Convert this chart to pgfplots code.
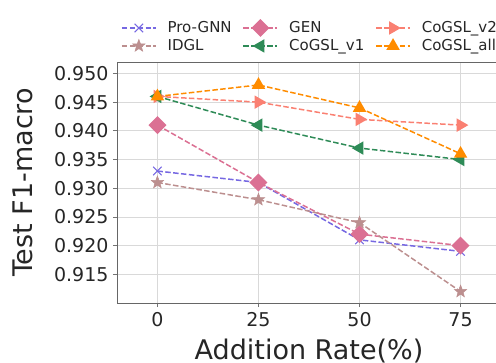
\documentclass[border=0pt]{standalone}
\usepackage{pgfplots}
\pgfplotsset{compat=1.18}
\usepackage{fontspec}
\setmainfont{DejaVu Sans}
\usetikzlibrary{plotmarks}

\definecolor{cpro}{RGB}{118,104,226}
\definecolor{cidgl}{RGB}{188,143,143}
\definecolor{cgen}{RGB}{219,112,147}
\definecolor{cvone}{RGB}{46,139,87}
\definecolor{cvtwo}{RGB}{250,128,114}
\definecolor{call}{RGB}{255,140,0}
\definecolor{txt}{RGB}{38,38,38}

\pgfdeclareplotmark{fstar}{%
  \pgfpathmoveto{\pgfpointpolar{90}{\pgfplotmarksize}}%
  \pgfpathlineto{\pgfpointpolar{126}{0.42\pgfplotmarksize}}%
  \pgfpathlineto{\pgfpointpolar{162}{\pgfplotmarksize}}%
  \pgfpathlineto{\pgfpointpolar{198}{0.42\pgfplotmarksize}}%
  \pgfpathlineto{\pgfpointpolar{234}{\pgfplotmarksize}}%
  \pgfpathlineto{\pgfpointpolar{270}{0.42\pgfplotmarksize}}%
  \pgfpathlineto{\pgfpointpolar{306}{\pgfplotmarksize}}%
  \pgfpathlineto{\pgfpointpolar{342}{0.42\pgfplotmarksize}}%
  \pgfpathlineto{\pgfpointpolar{18}{\pgfplotmarksize}}%
  \pgfpathlineto{\pgfpointpolar{54}{0.42\pgfplotmarksize}}%
  \pgfpathclose
  \pgfusepathqfillstroke
}

\begin{document}
\begin{tikzpicture}
\path[use as bounding box] (0,0) rectangle (496pt,362pt);
\clip (0,0) rectangle (496pt,362pt);
\begin{axis}[
  at={(117pt,59pt)}, anchor=south west,
  scale only axis, width=384pt, height=241pt,
  xmin=-10, xmax=85,
  ymin=0.910, ymax=0.952,
  xtick={0,25,50,75},
  ytick={0.915,0.92,0.925,0.93,0.935,0.94,0.945,0.95},
  yticklabel={\pgfmathprintnumber[fixed,fixed zerofill,precision=3]{\tick}},
  /pgf/number format/assume math mode=true,
  tick align=outside, major tick length=4pt,
  xtick pos=bottom, ytick pos=left,
  tick style={black!55, line width=0.8pt},
  axis line style={black!60, line width=0.9pt},
  grid=major, grid style={black!15, line width=0.8pt},
  every tick label/.append style={font=\fontsize{19}{19}\selectfont, text=txt},
  xticklabel style={yshift=-2pt},
  yticklabel style={xshift=-1pt},
  xlabel={Addition Rate(\%)},
  ylabel={Test F1-macro},
  every axis x label/.style={at={(axis description cs:0.5,-0.2)}, anchor=center, font=\fontsize{27}{27}\selectfont, text=txt},
  every axis y label/.style={at={(axis description cs:-0.245,0.5)}, rotate=90, anchor=center, font=\fontsize{27}{27}\selectfont, text=txt},
  legend style={at={(0.5,1.0)}, anchor=south, yshift=7pt, xshift=0pt, draw=none, fill=none,
    inner sep=0pt, outer sep=0pt,
    font=\fontsize{15}{15}\selectfont, text=txt,
    nodes={inner xsep=0pt, inner ysep=2.6pt},
    /tikz/every odd column/.append style={column sep=11pt},
    /tikz/every even column/.append style={column sep=11pt},
    row sep=0pt},
  legend columns=3,
  legend cell align=left,
  legend image code/.code={\draw[mark repeat=2,mark phase=2,#1] plot coordinates {(0pt,0pt) (17pt,0pt) (34pt,0pt)};},
  every axis plot/.append style={line width=1.5pt, dash pattern=on 5.5pt off 2.4pt},
]
\addplot[cpro, mark=x, mark size=6pt, mark options={solid, line width=1.1pt}]
  coordinates {(0,0.933) (25,0.931) (50,0.921) (75,0.919)};
\addlegendentry{Pro-GNN}
\addplot[cgen, mark=square*, mark size=5.6pt, mark options={solid, rotate=45, fill=cgen}]
  coordinates {(0,0.941) (25,0.931) (50,0.922) (75,0.920)};
\addlegendentry{GEN}
\addplot[cvtwo, mark=triangle*, mark size=6.3pt, mark options={solid, rotate=-90, fill=cvtwo}]
  coordinates {(0,0.946) (25,0.945) (50,0.942) (75,0.941)};
\addlegendentry{CoGSL\_v2}
\addplot[cidgl, mark=fstar, mark size=6.5pt, mark options={solid, fill=cidgl, line width=0.5pt}]
  coordinates {(0,0.931) (25,0.928) (50,0.924) (75,0.912)};
\addlegendentry{IDGL}
\addplot[cvone, mark=triangle*, mark size=6.3pt, mark options={solid, rotate=90, fill=cvone}]
  coordinates {(0,0.946) (25,0.941) (50,0.937) (75,0.935)};
\addlegendentry{CoGSL\_v1}
\addplot[call, mark=triangle*, mark size=6.3pt, mark options={solid, fill=call}]
  coordinates {(0,0.946) (25,0.948) (50,0.944) (75,0.936)};
\addlegendentry{CoGSL\_all}
\end{axis}
\end{tikzpicture}
\end{document}
